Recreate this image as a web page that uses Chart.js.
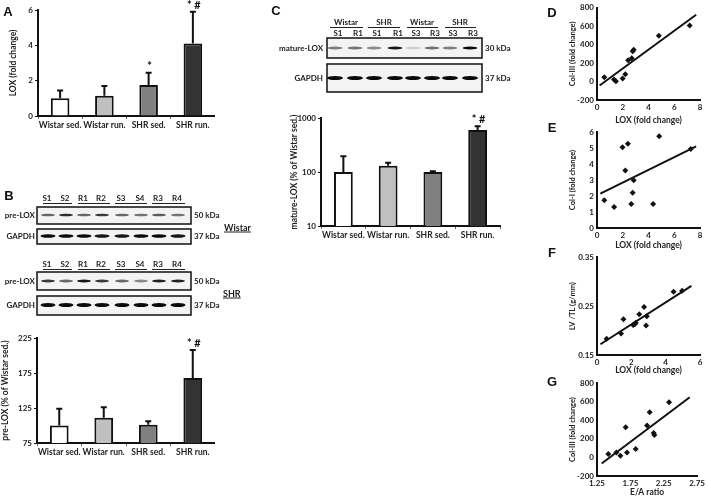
<!DOCTYPE html>
<html>
<head>
<meta charset="utf-8">
<script src="https://cdn.jsdelivr.net/npm/chart.js@4.4.0/dist/chart.umd.min.js"></script>
<style>
    body { margin: 0; background: #fff; width: 708px; height: 497px; position: relative; overflow: hidden; }
    canvas { position: absolute; }
    .lbl { position: absolute; font: bold 8px Lato, "Open Sans", sans-serif; color: #222; white-space: nowrap; line-height: 1; }
    .side { font-size: 9px; text-decoration: underline; }
    .panel { position: absolute; font: bold 13px "Liberation Sans", Arial, sans-serif; color: #111; line-height: 1; }
    .uline { position: absolute; height: 0; border-top: 1px solid #222; }
</style>
</head>
<body>
<canvas id="blots" width="708" height="497" style="left:0;top:0"></canvas>
<canvas id="chartA" width="207" height="135" style="left:8px;top:0px"></canvas>
<canvas id="chartB" width="215" height="130" style="left:0px;top:330px"></canvas>
<canvas id="chartC" width="213" height="135" style="left:289px;top:110px"></canvas>
<canvas id="chartD" width="140" height="125" style="left:568px;top:0px"></canvas>
<canvas id="chartE" width="140" height="130" style="left:568px;top:120px"></canvas>
<canvas id="chartF" width="140" height="127" style="left:568px;top:248px"></canvas>
<canvas id="chartG" width="140" height="122" style="left:568px;top:375px"></canvas>

<script>
// ---- data ----
const groups = ["Wistar sed.", "Wistar run.", "SHR sed.", "SHR run."];
const barColors = ["#ffffff", "#c0c0c0", "#808080", "#333333"];

const loxFold = [1.0, 1.15, 1.75, 4.1];
const loxFoldErr = [1.45, 1.7, 2.45, 5.9];
const loxFoldSig = ["", "", "*", "*#"];

const preLox = [100, 111, 101, 168];
const preLoxErr = [124, 126, 106, 208];
const preLoxSig = ["", "", "", "*#"];

const matureLox = [100, 130, 100, 600];
const matureLoxErr = [195, 148, 103, 700];
const matureLoxSig = ["", "", "", "*#"];

// D: Col-III vs LOX
const dLox = [0.57, 1.32, 1.47, 1.99, 2.2, 2.42, 2.7, 2.77, 2.85, 4.8, 7.2];
const dCol3 = [46, 22, 3, 32, 79, 230, 252, 328, 346, 497, 609];
const dFit = [[0.2, -43], [7.7, 724]];

// E: Col-I vs LOX
const eLox = [0.57, 1.33, 1.98, 2.2, 2.4, 2.66, 2.77, 2.85, 4.36, 4.83, 7.28];
const eCol1 = [1.73, 1.31, 5.04, 3.6, 5.27, 1.5, 2.2, 2.98, 1.5, 5.73, 4.94];
const eFit = [[0.26, 2.15], [7.7, 5.1]];

// F: LV/TL vs LOX
const fLox = [0.56, 1.4, 1.54, 2.1, 2.2, 2.26, 2.46, 2.74, 2.86, 2.9, 4.46, 4.96];
const fLvtl = [0.183, 0.194, 0.223, 0.211, 0.213, 0.216, 0.233, 0.248, 0.210, 0.229, 0.279, 0.281];
const fFit = [[0.2, 0.172], [5.5, 0.291]];

// G: Col-III vs E/A ratio
const gEA = [1.42, 1.54, 1.6, 1.68, 1.70, 1.83, 2.0, 2.04, 2.10, 2.11, 2.33];
const gCol3 = [36, 54, 18, 324, 54, 90, 342, 486, 263, 241, 594];
const gFit = [[1.32, -65], [2.64, 647]];

// ---- fonts ----
Chart.defaults.font.family = "Lato, 'Open Sans', sans-serif";
Chart.defaults.font.size = 8;
Chart.defaults.font.weight = "bold";
Chart.defaults.color = "#222";
const ink = "#111";

// error bars + significance marks above bars
const errorBars = {
    id: "errorBars",
    afterDatasetsDraw(chart, args, opts) {
        const ctx = chart.ctx;
        const y = chart.scales.y;
        ctx.save();
        ctx.strokeStyle = ink;
        ctx.lineWidth = 2;
        ctx.fillStyle = ink;
        ctx.textAlign = "center";
        ctx.textBaseline = "bottom";
        chart.getDatasetMeta(0).data.forEach((bar, i) => {
            const top = y.getPixelForValue(opts.err[i]);
            ctx.beginPath();
            ctx.moveTo(bar.x, bar.y);
            ctx.lineTo(bar.x, top);
            ctx.moveTo(bar.x - 3, top);
            ctx.lineTo(bar.x + 3, top);
            ctx.stroke();
            if (opts.sig[i]) {
                ctx.font = "bold 11px Lato, sans-serif";
                ctx.fillText(opts.sig[i].split("").join(" "), bar.x + 1, top - 1);
            }
        });
        ctx.restore();
    }
};

function barChart(id, vals, err, sig, yScale, yTitle, yW, xH, padTop, padRight) {
    return new Chart(document.getElementById(id), {
        type: "bar",
        data: {
            labels: groups,
            datasets: [{
                data: vals,
                backgroundColor: barColors,
                borderColor: ink,
                borderWidth: 2,
                barPercentage: 0.42,
                categoryPercentage: 1
            }]
        },
        plugins: [errorBars],
        options: {
            responsive: false,
            animation: false,
            layout: { padding: { top: padTop, right: padRight, left: 0, bottom: 0 } },
            plugins: {
                legend: { display: false },
                tooltip: { enabled: false },
                errorBars: { err: err, sig: sig }
            },
            scales: {
                x: {
                    grid: { display: true, drawOnChartArea: false, offset: true, tickLength: 3, color: "#666", lineWidth: 1 },
                    border: { color: ink, width: 2 },
                    ticks: { padding: 1, maxRotation: 0, autoSkip: false, font: { size: 8.5 } },
                    afterFit: s => { s.height = xH; }
                },
                y: Object.assign({
                    grid: { drawOnChartArea: false, tickLength: 3, color: ink },
                    border: { color: ink, width: 2 },
                    title: { display: true, text: yTitle, padding: 0, font: { size: 8.5 } },
                    afterFit: s => { s.width = yW; }
                }, yScale)
            }
        }
    });
}

barChart("chartA", loxFold, loxFoldErr, loxFoldSig,
    { min: 0, max: 6, ticks: { stepSize: 2, padding: 2 } },
    "LOX (fold change)", 30, 19, 10, 0);

barChart("chartB", preLox, preLoxErr, preLoxSig,
    { min: 75, max: 225, ticks: { stepSize: 50, padding: 2 } },
    "pre-LOX (% of Wistar sed.)", 37, 17, 8, 0);

barChart("chartC", matureLox, matureLoxErr, matureLoxSig,
    { type: "logarithmic", min: 10, max: 1000,
      afterBuildTicks: s => { s.ticks = [10, 100, 1000].map(v => ({ value: v })); },
      ticks: { padding: 2, callback: v => String(v) } },
    "mature-LOX (% of Wistar sed.)", 32, 19, 8, 2);

function scatterChart(id, xs, ys, fit, xScale, yScale, xTitle, yTitle, xH, padTop) {
    return new Chart(document.getElementById(id), {
        type: "scatter",
        data: {
            datasets: [{
                data: xs.map((x, i) => ({ x: x, y: ys[i] })),
                pointStyle: "rectRot",
                pointRadius: 3,
                backgroundColor: ink,
                borderColor: ink,
                borderWidth: 0
            }, {
                data: fit.map(p => ({ x: p[0], y: p[1] })),
                showLine: true,
                borderColor: ink,
                borderWidth: 2,
                pointRadius: 0
            }]
        },
        options: {
            responsive: false,
            animation: false,
            layout: { padding: { top: padTop, right: 8, left: 0, bottom: 0 } },
            plugins: { legend: { display: false }, tooltip: { enabled: false } },
            scales: {
                x: Object.assign({
                    type: "linear",
                    grid: { display: false, drawTicks: false },
                    border: { color: ink, width: 2 },
                    title: { display: true, text: xTitle, padding: 0, font: { size: 8.5 } },
                    afterFit: s => { s.height = xH; }
                }, xScale),
                y: Object.assign({
                    grid: { display: false, drawTicks: false },
                    border: { color: ink, width: 2 },
                    title: { display: true, text: yTitle, padding: 0, font: { size: 7.5 } },
                    afterFit: s => { s.width = 29; }
                }, yScale)
            }
        }
    });
}

const loxAxis8 = { min: 0, max: 8, ticks: { stepSize: 2, padding: 3 } };
const col3Axis = { min: -200, max: 800, ticks: { stepSize: 200, padding: 3 } };

scatterChart("chartD", dLox, dCol3, dFit, loxAxis8, col3Axis,
    "LOX (fold change)", "Col-III (fold change)", 25, 7);

scatterChart("chartE", eLox, eCol1, eFit, loxAxis8,
    { min: 0, max: 6, ticks: { stepSize: 1, padding: 3 } },
    "LOX (fold change)", "Col-I (fold change)", 22, 12);

scatterChart("chartF", fLox, fLvtl, fFit,
    { min: 0, max: 6, ticks: { stepSize: 2, padding: 3 } },
    { min: 0.15, max: 0.35,
      afterBuildTicks: s => { s.ticks = [0.15, 0.25, 0.35].map(v => ({ value: v })); },
      ticks: { padding: 3, callback: v => v.toFixed(2) } },
    "LOX (fold change)", "LV /TL (g/mm)", 20, 9);

scatterChart("chartG", gEA, gCol3, gFit,
    { min: 1.25, max: 2.75,
      afterBuildTicks: s => { s.ticks = [1.25, 1.75, 2.25, 2.75].map(v => ({ value: v })); },
      ticks: { padding: 3, callback: v => v.toFixed(2) } },
    col3Axis, "E/A ratio", "Col-III (fold change)", 21, 8);

// ---- western blots (decoration, not chart data) ----
const bctx = document.getElementById("blots").getContext("2d");
function blot(box, lanes, bandY, strength, bandW, bandH) {
    const [x0, y0, x1, y1] = box;
    bctx.fillStyle = "#f3f3f3";
    bctx.fillRect(x0, y0, x1 - x0, y1 - y0);
    bctx.save();
    bctx.filter = "blur(0.6px)";
    lanes.forEach((x, i) => {
        bctx.fillStyle = "rgba(10,10,10," + strength[i] + ")";
        bctx.beginPath();
        bctx.ellipse(x, bandY, bandW / 2, bandH / 2, 0, 0, Math.PI * 2);
        bctx.fill();
    });
    bctx.restore();
    bctx.strokeStyle = ink;
    bctx.lineWidth = 1.5;
    bctx.strokeRect(x0, y0, x1 - x0, y1 - y0);
}
const laneB = [48, 66, 84, 102, 122, 141, 159, 178];
const laneC = [335, 355, 374, 395, 413, 432, 450, 470];
blot([37, 207, 191, 224], laneB, 215, [0.6, 0.85, 0.6, 0.8, 0.6, 0.55, 0.65, 0.55], 14, 2.5);
blot([37, 229, 191, 244], laneB, 236, [1, 1, 1, 0.95, 0.95, 1, 1, 0.95], 15, 3.5);
blot([37, 272, 191, 290], laneB, 281, [0.8, 0.6, 0.95, 0.8, 0.6, 0.45, 0.9, 0.9], 14, 3);
blot([37, 296, 191, 315], laneB, 305, [1, 1, 1, 1, 1, 1, 1, 1], 15, 4);
blot([327, 38, 482, 58], laneC, 48, [0.5, 0.55, 0.45, 0.95, 0.15, 0.55, 0.5, 1], 15, 3);
blot([327, 64, 482, 92], laneC, 78, [1, 1, 1, 1, 1, 1, 1, 1], 16, 4);

// ---- text labels ----
function txt(s, x, y, align, cls) {
    const d = document.createElement("div");
    d.className = cls || "lbl";
    d.textContent = s;
    d.style.left = x + "px";
    d.style.top = y + "px";
    const tx = align === "r" ? "-100%" : align === "l" ? "0" : "-50%";
    d.style.transform = "translate(" + tx + ",-50%)";
    document.body.appendChild(d);
}
function uline(x0, x1, y) {
    const d = document.createElement("div");
    d.className = "uline";
    d.style.left = x0 + "px";
    d.style.top = y + "px";
    d.style.width = (x1 - x0) + "px";
    document.body.appendChild(d);
}

const laneNamesB = ["S1", "S2", "R1", "R2", "S3", "S4", "R3", "R4"];
const pairsB = [[43, 72], [78, 110], [115, 147], [152, 185]];
[198, 264].forEach(y => {
    laneNamesB.forEach((n, i) => txt(n, laneB[i] - 1, y, "c"));
    pairsB.forEach(p => uline(p[0], p[1], y + 5));
});
txt("pre-LOX", 35, 215, "r");
txt("GAPDH", 35, 236, "r");
txt("pre-LOX", 35, 281, "r");
txt("GAPDH", 35, 305, "r");
txt("50 kDa", 194, 215, "l");
txt("37 kDa", 194, 236, "l");
txt("50 kDa", 194, 281, "l");
txt("37 kDa", 194, 305, "l");
txt("Wistar", 224, 227, "l", "lbl side");
txt("SHR", 223, 293, "l", "lbl side");

const groupC = [["Wistar", 346], ["SHR", 384], ["Wistar", 422], ["SHR", 460]];
const pairsC = [[330, 363], [368, 400], [407, 438], [445, 476]];
groupC.forEach(g => txt(g[0], g[1], 22, "c"));
pairsC.forEach(p => uline(p[0], p[1], 27));
["S1", "R1", "S1", "R1", "S3", "R3", "S3", "R3"].forEach((n, i) => txt(n, laneC[i] + 3, 33, "c"));
txt("mature-LOX", 323, 48, "r");
txt("GAPDH", 323, 78, "r");
txt("30 kDa", 485, 48, "l");
txt("37 kDa", 485, 78, "l");

[["A", 8, 11], ["B", 9, 195], ["C", 276, 10], ["D", 552, 12], ["E", 552, 127], ["F", 552, 252], ["G", 552, 381]]
    .forEach(p => txt(p[0], p[1], p[2], "c", "panel"));
</script>
</body>
</html>
